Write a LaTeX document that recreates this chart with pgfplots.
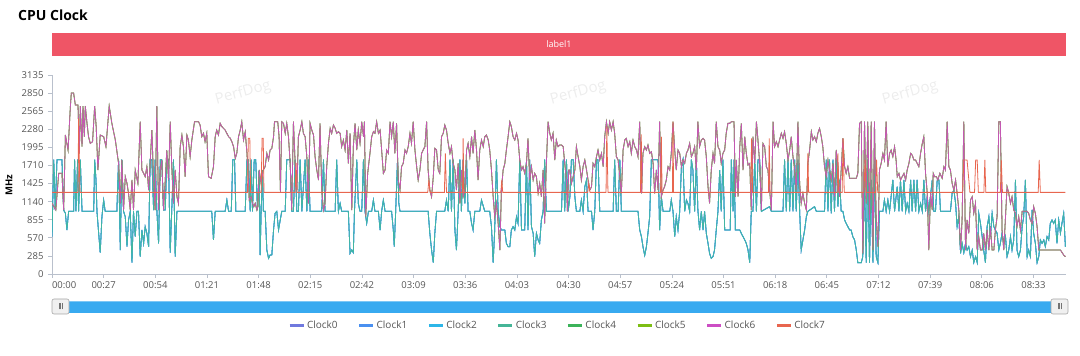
\documentclass[border=0pt]{standalone}
\usepackage{pgfplots}
\pgfplotsset{compat=1.18}
\usepackage{pgfplotstable}
\usepackage{fontspec}
\setmainfont{Open Sans}
\definecolor{c0}{HTML}{7079DE}
\definecolor{c1}{HTML}{4A90F0}
\definecolor{c2}{HTML}{2DB6E8}
\definecolor{c3}{HTML}{45B597}
\definecolor{c4}{HTML}{3CB35A}
\definecolor{c5}{HTML}{7DBE14}
\definecolor{c6}{HTML}{CC4EC4}
\definecolor{c7}{HTML}{E8664F}
\definecolor{banner}{HTML}{EF5566}
\definecolor{axisc}{HTML}{B9C0CC}
\definecolor{txt}{HTML}{555555}
\definecolor{barc}{HTML}{38AAF0}

\pgfplotstableread{
t v
0 588
0.9 1800
1.7 1008
2.6 1800
5.2 1800
6.1 1008
7.0 956
7.8 693
8.7 987
11.3 987
11.8 1800
12.5 987
13.4 1800
13.9 987
14.8 1800
15.7 987
21.8 987
22.3 1800
23.0 1481
23.5 987
24.4 641
25.2 336
26.1 903
27.0 1166
27.8 987
33.9 987
34.8 1800
35.7 378
36.5 1800
37.4 987
38.3 903
39.2 431
40.0 851
40.9 987
41.8 179
42.6 987
43.5 588
44.4 987
45.2 987
46.1 273
47.0 693
47.9 483
48.7 746
49.6 641
50.5 431
51.3 1800
52.2 1800
53.1 1008
53.9 1800
54.8 1008
55.7 483
56.6 1800
57.4 1800
58.3 1008
59.2 1008
60.0 1800
60.9 1800
61.8 336
62.6 1008
63.5 1800
64.4 273
65.3 987
83.5 987
84.4 536
85.3 987
90.5 987
91.4 1166
92.3 987
93.7 987
94.5 1800
95.4 1800
96.1 987
101.0 987
101.9 1800
102.7 1800
103.6 987
104.1 1800
104.8 987
105.7 1800
106.5 1800
107.4 1008
108.3 1638
108.8 299
109.3 956
110.0 1638
110.5 987
111.4 987
112.3 378
113.2 247
114.0 299
114.9 299
115.8 693
116.6 956
117.5 987
118.4 693
119.3 851
120.1 987
121.9 987
122.7 1800
124.5 1800
125.3 987
126.2 987
127.1 1800
128.0 987
128.8 987
129.7 1800
130.6 987
132.3 1800
133.2 987
134.0 1800
134.9 987
141.0 987
141.9 1800
142.7 987
148.0 987
148.8 1800
149.7 987
150.6 1113
151.4 987
154.9 987
155.8 326
156.7 378
157.5 336
158.1 987
159.3 1800
160.1 1113
161.0 987
161.9 987
162.8 1800
163.6 987
164.5 798
165.4 987
167.1 987
168.0 1166
168.8 987
170.6 987
171.5 693
172.3 987
173.2 1166
174.1 987
177.5 987
178.4 693
178.9 431
179.6 956
180.6 1800
181.3 1113
181.9 987
196.6 987
197.5 641
198.4 378
199.3 179
200.1 641
201.0 987
205.3 987
206.2 1166
207.1 987
208.0 1800
208.8 987
209.7 1800
210.6 693
211.4 378
212.3 987
213.2 1800
214.0 987
214.9 1800
215.8 1113
216.7 1800
217.5 987
218.4 987
219.3 798
220.1 693
221.0 987
223.6 987
224.5 1166
226.2 987
228.8 987
229.7 746
230.6 179
231.4 693
232.3 1800
233.2 987
234.1 746
234.9 693
236.7 693
237.5 483
238.4 431
239.3 431
240.1 693
241.0 746
241.9 693
242.8 903
243.6 798
244.5 1800
245.4 693
247.1 693
248.0 1800
248.8 693
249.7 1800
250.6 746
251.5 641
252.3 273
253.2 641
254.1 536
254.9 483
255.8 851
256.7 987
257.5 1800
258.4 987
266.3 987
267.2 1800
268.0 987
268.9 1800
269.8 987
270.7 1218
271.5 1800
272.4 1800
273.3 1218
274.1 987
275.9 987
276.7 1166
277.6 987
278.5 1376
279.4 1481
280.2 987
282.0 987
282.8 693
283.7 987
284.6 1800
285.4 1800
286.3 987
293.3 987
294.1 1800
295.0 987
295.9 987
296.8 1800
297.6 987
306.3 987
307.2 693
308.1 588
308.9 431
309.8 294
310.7 431
311.5 641
312.4 903
313.3 1800
316.8 1800
317.6 693
318.5 1218
319.4 987
322.9 987
323.7 1166
324.6 987
325.5 588
326.3 903
327.2 693
328.1 987
329.0 1691
329.8 1800
330.7 987
331.6 1166
332.4 1113
333.3 987
334.2 1800
335.0 1638
335.9 987
336.8 1800
337.6 1008
338.5 693
339.4 987
340.3 693
341.1 987
342.0 641
342.9 483
343.7 326
344.6 247
345.5 273
346.3 378
347.2 693
348.1 987
349.0 1638
349.8 987
350.7 1800
351.6 693
354.5 693
355.1 1800
356.0 987
356.5 1800
357.2 693
359.5 693
360.3 641
361.2 588
362.1 536
362.9 483
363.8 378
364.7 179
365.5 987
366.4 987
367.3 1800
368.2 987
369.0 1800
369.9 1800
370.8 987
375.1 1061
376.0 987
382.1 987
382.9 1800
383.8 987
384.7 1800
385.6 987
386.4 1800
387.3 987
388.2 1800
389.0 987
389.9 1800
390.8 987
391.6 378
392.5 536
393.4 693
394.3 903
395.1 987
398.6 1061
399.5 987
403.8 987
404.7 1800
405.6 987
406.4 1800
407.3 956
408.2 1800
409.0 987
409.9 1800
410.8 1061
411.7 1481
412.5 987
413.4 987
414.3 851
415.1 798
416.0 746
416.9 693
417.7 693
418.6 588
419.5 536
420.4 378
421.2 179
423.0 179
423.8 273
424.7 1481
425.6 179
426.4 1800
427.3 179
428.2 1481
429.1 179
429.9 1800
430.8 273
431.7 179
432.5 987
434.3 987
435.1 1166
436.0 987
436.9 1166
437.8 987
439.5 1481
440.4 987
441.8 1376
442.7 987
443.5 1481
444.4 987
445.3 1481
446.2 987
447.0 1113
447.9 987
448.8 1481
449.6 987
450.5 1481
451.4 987
452.2 1481
453.1 987
454.0 1113
454.9 987
455.7 1481
456.6 987
457.5 1218
458.3 987
460.1 1481
460.9 987
461.8 987
462.7 1481
463.6 1481
464.4 987
469.6 987
470.5 1271
471.4 1323
472.3 1113
473.1 746
474.0 903
474.9 326
475.7 483
476.6 336
477.5 483
478.3 378
479.2 431
480.1 273
481.0 378
481.8 179
482.7 273
483.6 179
484.4 956
485.3 798
486.2 588
487.0 378
487.9 179
488.8 746
489.7 903
490.5 588
491.4 956
492.3 746
493.1 693
494.0 641
494.9 378
495.7 483
496.6 641
497.5 483
498.4 588
499.2 273
500.1 378
501.0 588
501.8 378
502.7 536
503.6 1481
504.4 378
505.3 273
506.2 378
507.1 746
507.9 903
508.8 1481
509.7 273
510.5 378
511.4 273
512.3 1008
513.1 641
514.0 483
514.9 179
515.8 273
516.6 536
517.5 483
518.4 536
519.2 431
520.1 588
521.0 536
521.8 798
522.7 851
523.6 798
524.4 851
525.3 483
526.2 851
527.1 641
527.9 798
528.8 956
529.7 431
}\little

\pgfplotstableread{
t v
0 1113
2 1008
3.5 1586
5.2 1586
6.1 1008
7 2189
8.4 1953
9.6 2636
10.1 2851
11.3 2851
12.2 2662
13.6 2662
14.3 1901
14.8 2646
15.7 2006
16.2 2646
16.9 2163
17.4 2646
18.3 2373
19.1 2163
20 2058
21.2 2084
22.3 2646
23.1 2321
24 1638
25.2 2189
27 2163
28.2 2006
29.9 2646
31.3 2373
33.1 2111
34.8 1743
35.7 1113
36.5 1796
37.4 1008
38.3 1533
39.2 1428
40 1271
40.9 1008
41.8 1481
42.6 1008
43.5 1638
44.9 1428
46.1 2399
47 1638
47.9 1586
48.7 1533
49.6 1691
50.5 1323
51.3 1743
52.2 2268
53.1 1481
53.9 1008
54.8 2646
55.7 1008
56.6 1638
57.4 1796
58.3 1008
59.2 1481
60 1953
60.9 1481
61.8 2399
62.6 1691
63.5 1113
64.4 1638
65.3 1218
66.1 1113
67 2006
67.9 2189
68.7 2006
69.6 1533
70.5 2189
71.3 2111
72.2 1848
73.1 2111
74.5 2399
76.6 2399
77.4 2347
78.3 2163
79.2 2216
80 2084
80.9 2216
81.8 1533
83.2 1507
84.4 1691
85.3 2163
86.1 2268
87 2189
87.9 2373
88.8 2321
90.5 2268
92.3 2163
93.2 2137
94.0 2084
94.9 2006
95.8 1822
96.6 1901
97.5 2163
98.4 2268
99.2 2399
100.1 2111
101.0 2242
101.9 1901
102.4 1638
103.1 1166
104.1 1218
104.8 1113
105.5 1061
106.2 1113
107.1 1008
107.6 1061
108.3 1638
109.3 1428
110.4 1638
111.4 1691
112.3 1901
113.2 1796
114.0 1953
114.9 1979
115.8 2163
116.3 2399
118.0 2399
118.7 2163
119.4 1297
120.1 2399
121.0 2373
121.9 2216
122.7 2373
123.6 2163
124.5 1743
125.3 1008
126.2 2399
127.1 1743
128.0 1323
128.8 2163
129.7 2268
130.6 2399
131.4 2216
132.3 2163
133.2 1848
134.0 1113
134.9 2373
135.8 2268
136.7 2189
137.5 1848
138.4 1638
139.3 1481
140.1 2373
141.0 1323
141.9 1008
142.7 1113
143.6 1691
144.5 2058
145.4 2294
146.2 2216
147.1 2347
148.0 2294
148.8 2216
149.7 2242
150.6 2216
151.4 2006
152.3 2111
153.2 1953
154.1 2268
154.9 1743
155.8 2216
156.7 1008
157.5 2006
158.4 2373
159.3 1953
160.1 2268
161.0 2058
161.9 2399
162.8 2163
163.3 2399
164.0 903
165.0 1586
166.2 1901
167.1 2163
168.0 2242
168.8 2216
169.7 2399
170.6 2216
171.5 2268
172.3 1953
173.2 1586
174.1 1638
174.9 1953
175.8 1901
176.7 2399
177.5 2163
178.4 2399
179.2 1901
180.1 2373
181.0 1481
181.9 1323
182.7 1691
183.6 1743
184.5 1953
185.3 1901
186.2 2006
187.1 2216
187.9 2058
188.8 2399
189.7 1953
190.6 1691
191.4 1481
192.3 1638
193.2 1901
194.0 1953
194.9 2006
195.8 2399
196.6 1638
197.5 1323
198.4 1218
199.3 1533
200.1 1979
201.0 1953
201.9 1638
202.7 1586
203.6 2163
204.5 2216
205.3 2347
206.2 2268
207.1 2058
208.0 1901
208.8 2006
209.7 1743
210.6 1638
211.4 1323
212.3 1743
213.2 1113
214.0 1638
214.9 1218
215.8 1323
216.7 1953
217.5 2058
218.4 1848
219.3 2163
220.1 1901
221.0 2268
221.9 1953
222.7 1481
223.6 1953
224.5 2111
225.4 2006
226.2 2163
227.1 2189
228.0 2111
228.8 1953
229.7 1638
230.6 1218
231.4 903
232.3 1113
233.2 798
234.1 378
234.9 1323
235.8 1638
236.7 1743
237.5 1953
238.4 2163
239.3 2399
240.1 2321
241.0 2163
241.9 2111
242.8 2216
243.6 2111
244.5 1796
245.4 1638
246.2 1691
247.1 1586
248.0 1743
248.8 2137
249.7 1481
250.6 1691
251.5 1481
252.3 1586
253.2 1533
254.1 1271
254.9 1428
255.8 1218
256.7 1638
257.5 798
258.4 1743
259.3 2399
260.2 2216
261.0 2111
261.9 2216
262.8 1796
263.6 2111
264.5 2006
265.4 2032
266.3 2032
267.2 2006
268.0 1743
268.9 1481
269.4 987
270.1 1638
270.7 1638
271.5 1428
272.4 1533
273.3 1638
274.1 2006
275.0 1848
275.9 1691
276.7 1481
277.6 1691
278.5 1796
279.4 1638
280.2 1481
281.1 1323
282.0 1376
282.8 1743
283.7 1691
284.6 1848
285.4 1953
286.3 1796
287.2 1901
288.1 1691
288.9 2163
289.8 2399
290.7 2216
291.5 2399
292.4 2268
293.3 2399
294.1 2216
295.0 1848
295.9 1796
296.8 1533
297.6 1271
298.5 1953
299.4 2111
300.2 2137
301.1 2006
302.0 2084
302.8 1901
303.7 2111
304.6 2006
305.5 1953
306.3 1848
307.2 2399
308.1 1271
308.9 1901
309.8 2006
310.7 1953
311.5 2032
312.4 1901
313.3 1927
314.2 1743
315.0 1271
315.9 1638
316.8 1323
317.6 2399
318.5 1218
319.4 1323
320.2 1376
321.1 1481
322.0 1691
322.9 1638
323.7 1901
324.6 2399
325.5 1953
326.3 1638
327.2 1953
328.1 1901
329.0 1691
329.8 1796
330.7 1743
331.6 1901
332.4 1953
333.3 2058
334.2 1848
335.0 1901
335.9 2006
336.8 1638
337.6 2399
338.5 2006
339.4 2111
340.3 2137
341.1 2111
342.0 1848
342.9 1376
343.7 1113
344.6 1638
345.5 1901
346.3 1743
347.2 2399
348.1 2006
349.0 1953
349.8 1743
350.7 1901
351.6 1953
352.4 2216
353.3 2373
354.2 2373
355.1 2399
356.5 2399
357.2 1218
357.7 1796
358.6 1218
359.5 2006
360.3 2373
361.2 1638
362.1 2163
362.9 1901
363.8 1717
364.7 1743
365.5 1008
366.4 2163
367.3 1743
368.2 2399
369.0 2111
369.9 1743
370.8 1008
371.6 2058
372.5 2006
373.4 1691
374.2 1638
375.1 1323
376.0 1008
376.9 2399
377.7 2006
378.6 2084
379.5 2006
380.3 2111
381.2 2216
382.1 2137
382.9 2242
383.8 2058
384.7 1796
385.6 1953
386.4 2163
387.3 1848
388.2 1638
389.0 1323
389.9 2399
390.8 1428
391.6 1113
392.5 1271
393.4 1113
394.3 1008
395.1 1743
396.0 1953
396.9 2242
397.7 2111
398.6 2163
399.5 2084
400.3 2216
401.2 2294
402.1 2163
402.9 2006
403.8 1691
404.7 1533
405.6 1796
406.4 1638
407.3 1481
408.2 1743
409.0 1218
409.9 1953
410.8 1691
411.7 1218
412.5 1638
413.4 2137
414.3 1691
415.1 1586
416.0 1691
416.9 1507
420.4 1507
421.2 1586
422.1 2373
423.0 2399
423.8 326
424.7 2399
425.6 1113
426.4 2399
427.3 851
428.2 2399
429.1 378
429.9 2399
430.8 851
431.7 431
432.5 1638
433.4 1743
434.3 1901
435.1 1796
436.0 2399
436.9 1691
437.8 1901
438.6 1953
439.5 1848
440.4 2006
441.2 1796
441.8 1533
442.7 1586
443.5 1481
444.4 1533
445.3 1586
446.2 1481
447.0 1638
447.9 1743
448.8 1901
449.6 1874
450.5 1796
451.4 1796
452.2 1743
453.1 1691
454.0 1901
454.9 2058
455.7 2163
456.6 1586
457.5 1271
458.3 378
459.2 1271
460.1 1008
460.6 1586
461.3 1533
462.3 1533
463.0 1481
464.1 1586
465.3 1507
466.2 1691
467.0 1638
467.9 2399
468.8 1691
469.6 1638
470.5 1428
471.4 1323
472.3 1481
473.1 1271
474.0 1008
474.9 378
475.7 851
476.6 2399
477.5 378
478.3 851
479.2 641
480.1 1166
481.0 1218
481.8 956
482.7 1113
483.6 378
484.4 588
485.3 378
486.2 378
487.0 641
487.9 378
488.8 693
489.7 378
490.5 746
491.4 378
492.3 378
493.1 693
494.0 903
494.9 2399
495.7 2399
496.6 693
497.5 378
498.4 903
499.2 1376
500.1 1271
501.0 1113
501.8 1218
502.7 1008
503.6 956
504.4 746
505.3 903
506.2 693
507.1 987
509.7 987
510.5 956
511.4 851
512.3 798
513.1 1061
514.0 956
514.9 746
515.8 378
527.1 378
528.8 299
529.7 273
}\big

\pgfplotstableread{
t v
0 1286
13.6 1286
13.9 2450
14.6 1286
102.2 1286
102.6 2137
103.4 2137
103.8 1286
109.3 1286
109.8 2137
110.4 2137
110.8 1286
127.1 1286
127.6 1750
128.1 1286
196.4 1286
197.0 1481
197.6 1286
205.1 1286
205.6 1900
206.2 1286
214.6 1286
214.9 2137
215.3 1286
234.6 1286
235.1 1481
235.6 1286
280.0 1286
280.6 1430
281.2 1286
289.6 1286
290.0 2320
290.6 1286
307.6 1286
308.0 2200
308.4 1286
318.1 1286
318.5 2163
318.9 1286
324.3 1286
324.6 2400
324.9 1286
365.2 1286
365.7 2137
366.2 1286
374.5 1286
374.9 2137
375.3 1286
394.7 1286
395.1 1900
395.5 1286
410.4 1286
410.8 1900
411.2 1286
413.0 1286
413.5 2137
414.1 1286
424.4 1286
425.0 1800
425.6 1286
430.5 1286
431.0 1800
431.6 1286
476.0 1286
476.6 1796
478.3 1796
479.8 1286
482.2 1286
482.8 1796
483.6 1796
484.2 1286
487.1 1286
487.6 1796
488.1 1286
495.7 1286
496.2 1796
496.8 1286
515.5 1286
516.0 1796
516.6 1286
529.7 1286
}\prime

\begin{document}
\begin{tikzpicture}[x=1pt,y=1pt]
\path[use as bounding box] (0,0) rectangle (1080,356);
\node[anchor=west, inner sep=0pt, font=\fontsize{14}{16}\selectfont\bfseries] at (18,341) {CPU Clock};
\fill[banner] (52,300) rectangle (1066,323);
\node[white, font=\fontsize{9}{10}\selectfont] at (559,311.5) {label1};
\foreach \xx in {243,578,910}{
  \node[rotate=15, text=black!7, font=\fontsize{15}{16}\selectfont] at (\xx,263) {PerfDog};
}
\node[rotate=90, font=\fontsize{9.5}{10}\selectfont\bfseries] at (9,171) {MHz};
\begin{axis}[
  at={(52pt,82pt)}, anchor=south west,
  scale only axis, width=1014pt, height=199pt,
  xmin=0, xmax=530, ymin=0, ymax=3135,
  axis lines*=left,
  axis line style={axisc, line width=0.7pt},
  tick style={axisc, line width=0.7pt},
  tick align=outside, major tick length=4pt,
  ytick={0,285,570,855,1140,1425,1710,1995,2280,2565,2850,3135},
  xtick={0,27,54,81,108,135,162,189,216,243,270,297,324,351,378,405,432,459,486,513},
  xticklabels={{\makebox[0pt][l]{00:00}},00:27,00:54,01:21,01:48,02:15,02:42,03:09,03:36,04:03,04:30,04:57,05:24,05:51,06:18,06:45,07:12,07:39,08:06,08:33},
  /pgf/number format/assume math mode=true,
  /pgf/number format/1000 sep={},
  ticklabel style={font=\fontsize{9.5}{10}\selectfont, text=txt},
  yticklabel style={xshift=-1pt},
  legend style={at={(0.4985,-0.261)}, anchor=center, draw=none, fill=none,
    legend columns=8, font=\fontsize{10}{11}\selectfont, text=txt,
    /tikz/every even column/.append style={column sep=18pt}},
  legend image code/.code={\draw[#1, opacity=1, line width=3pt] (0pt,0pt) -- (14pt,0pt);},
]
\addplot[c0, mark=none, line width=0.8pt] table[x=t,y=v] {\little};
\addlegendentry{Clock0}
\addplot[c1, mark=none, line width=0.8pt] table[x=t,y=v] {\little};
\addlegendentry{Clock1}
\addplot[c2, mark=none, line width=0.8pt] table[x=t,y=v] {\little};
\addlegendentry{Clock2}
\addplot[c3, mark=none, line width=0.8pt, opacity=0.85] table[x=t,y=v] {\little};
\addlegendentry{Clock3}
\addplot[c4, mark=none, line width=0.8pt] table[x=t,y=v] {\big};
\addlegendentry{Clock4}
\addplot[c5, mark=none, line width=0.8pt] table[x=t,y=v] {\big};
\addlegendentry{Clock5}
\addplot[c6, mark=none, line width=0.8pt, opacity=0.9] table[x=t,y=v] {\big};
\addlegendentry{Clock6}
\addplot[c7, mark=none, line width=0.8pt] table[x=t,y=v] {\prime};
\addlegendentry{Clock7}
\end{axis}
\fill[barc] (60,43.3) rectangle (1060,55);
\fill[white, opacity=0.35] (60,53.5) rectangle (1060,55);
\foreach \hx in {52,1051}{
  \filldraw[fill=black!6, draw=black!35, line width=0.6pt, rounded corners=2pt] (\hx,42) rectangle ++(17,15);
  \foreach \k in {-1.6,0,1.6}{
    \draw[black!55, line width=0.5pt] (\hx+8.5+\k,46.5) -- ++(0,6);
  }
}
\end{tikzpicture}
\end{document}
